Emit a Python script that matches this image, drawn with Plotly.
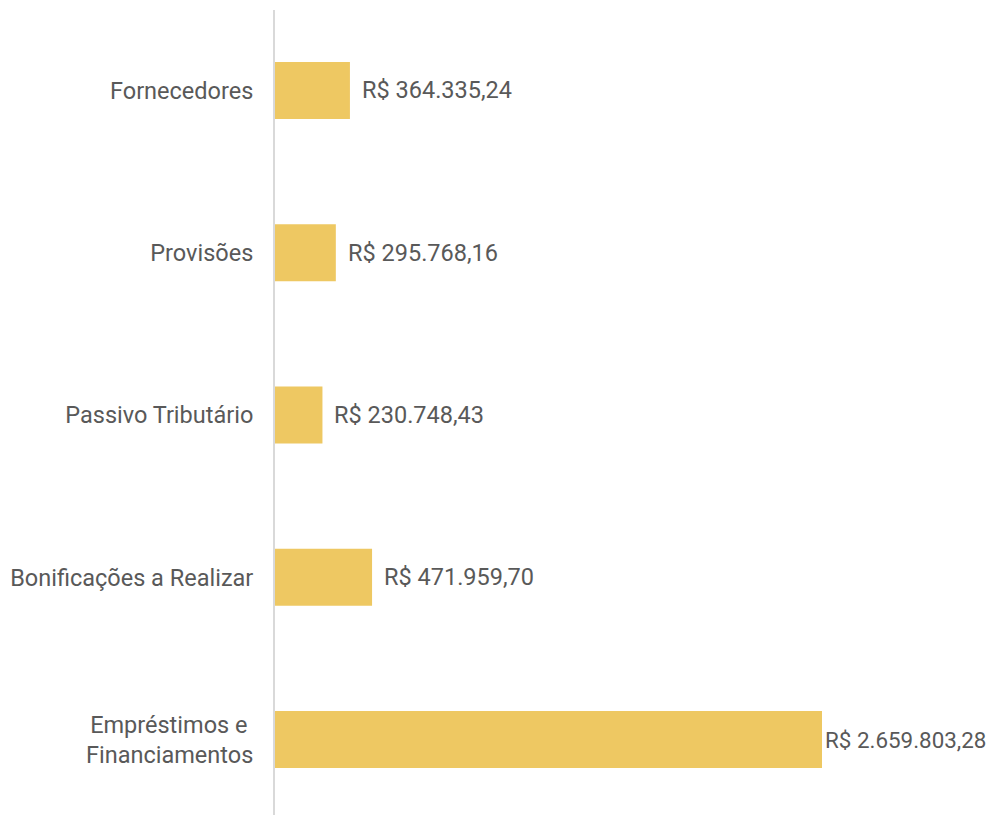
import plotly.graph_objects as go

categories = ["Fornecedores", "Provisões", "Passivo Tributário", "Bonificações a Realizar", "Empréstimos e <br>Financiamentos"]
values = [364335.24, 295768.16, 230748.43, 471959.70, 2659803.28]
value_labels = ["R$ 364.335,24", "R$ 295.768,16", "R$ 230.748,43", "R$ 471.959,70", "R$ 2.659.803,28"]

FONT = "Roboto"
TXT = "#595959"
BAR = "#EEC862"
FS = 23.5

fig = go.Figure(go.Bar(
    y=categories, x=values, orientation="h",
    marker=dict(color=BAR, line=dict(width=0)),
    width=0.351, hoverinfo="skip",
))

vmax = max(values)
for c, v, t in zip(categories, values, value_labels):
    is_max = v == vmax
    fig.add_annotation(x=v, y=c, text=t, showarrow=False, xanchor="left",
                       xshift=1 if is_max else 10,
                       font=dict(family=FONT, size=22.4 if is_max else FS, color=TXT))

fig.update_layout(
    width=990, height=807,
    margin=dict(l=267, r=176, t=2, b=0, autoexpand=False),
    paper_bgcolor="white", plot_bgcolor="white",
    showlegend=False,
    font=dict(family=FONT, size=FS, color=TXT),
)
fig.update_xaxes(range=[0, 2659803.28], showgrid=False, zeroline=False,
                 showticklabels=False, showline=False, automargin=False)
fig.update_yaxes(range=[4.465, -0.496], showgrid=False, zeroline=False,
                 showline=True, linecolor="#D9D9D9", linewidth=2,
                 ticks="", ticklabelstandoff=15, automargin=False,
                 tickfont=dict(family=FONT, size=FS, color=TXT))

fig.write_html("out.html")
